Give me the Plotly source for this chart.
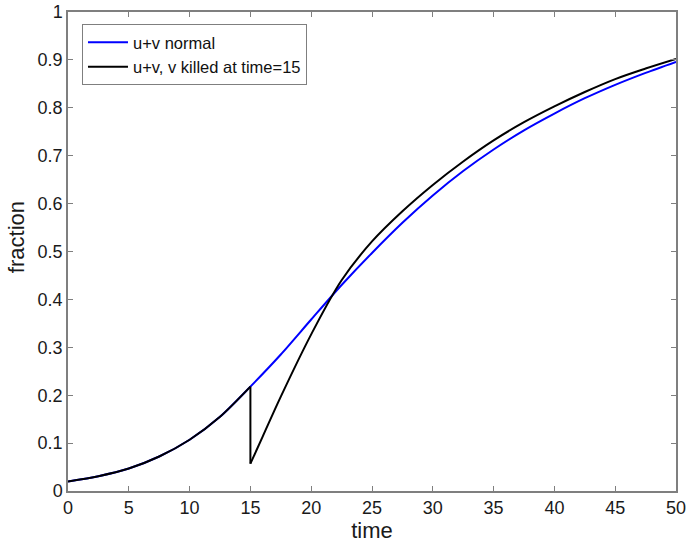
import plotly.graph_objects as go

# Data
t_normal = [0, 2.5, 5, 7.5, 10, 12.5, 15, 17.5, 20, 22.5, 25, 27.5, 30, 32.5,
            35, 37.5, 40, 42.5, 45, 47.5, 50]
f_normal = [0.020, 0.031, 0.047, 0.072, 0.107, 0.155, 0.218, 0.285, 0.358, 0.430,
            0.497, 0.560, 0.617, 0.668, 0.713, 0.753, 0.788, 0.820, 0.848, 0.873, 0.896]

# killed curve: before the kill (identical to normal), the drop, and after
t_before = [0, 2.5, 5, 7.5, 10, 12.5, 15]
f_before = [0.020, 0.031, 0.047, 0.072, 0.107, 0.155, 0.218]
t_drop = [15, 15]
f_drop = [0.218, 0.057]
t_after = [15, 16, 17.5, 20, 22.5, 25, 27.5, 30, 32.5, 35, 37.5, 40, 42.5, 45, 47.5, 50]
f_after = [0.057, 0.113, 0.197, 0.327, 0.440, 0.521, 0.584, 0.639, 0.688, 0.732,
           0.770, 0.803, 0.833, 0.860, 0.882, 0.902]

x_ticks = [0, 5, 10, 15, 20, 25, 30, 35, 40, 45, 50]
y_ticks = [0, 0.1, 0.2, 0.3, 0.4, 0.5, 0.6, 0.7, 0.8, 0.9, 1]
y_labels = ["0", "0.1", "0.2", "0.3", "0.4", "0.5", "0.6", "0.7", "0.8", "0.9", "1"]

font_family = "Liberation Sans, Arial, sans-serif"
text_color = "#1a1a1a"

fig = go.Figure()
fig.add_trace(go.Scatter(x=t_normal, y=f_normal, mode="lines", name="u+v normal",
                         line=dict(color="#0000ff", width=2, shape="spline", smoothing=0.8)))
fig.add_trace(go.Scatter(x=t_before, y=f_before, mode="lines",
                         name="u+v, v killed at time=15", legendgroup="killed",
                         line=dict(color="#000000", width=2, shape="spline", smoothing=0.8)))
fig.add_trace(go.Scatter(x=t_drop, y=f_drop, mode="lines", showlegend=False,
                         legendgroup="killed", line=dict(color="#000000", width=2)))
fig.add_trace(go.Scatter(x=t_after, y=f_after, mode="lines", showlegend=False,
                         legendgroup="killed",
                         line=dict(color="#000000", width=2, shape="spline", smoothing=1.0)))

axis_common = dict(
    showline=True, linecolor="#7f7f7f", linewidth=1.5, mirror="ticks",
    ticks="inside", ticklen=5, tickcolor="#7f7f7f", tickwidth=1.2,
    showgrid=False, zeroline=False, automargin=False, ticklabeloverflow="allow",
    tickfont=dict(family=font_family, size=18, color=text_color),
)

fig.update_xaxes(range=[0, 50], tickvals=x_ticks, ticktext=[str(v) for v in x_ticks],
                 title=dict(text="time", font=dict(family=font_family, size=22, color=text_color),
                            standoff=2),
                 **axis_common)
fig.update_yaxes(range=[0, 1], tickvals=y_ticks, ticktext=y_labels, **axis_common)

fig.add_annotation(text="fraction", textangle=-90, xref="paper", yref="paper",
                   x=-0.0855, y=0.530, xanchor="center", yanchor="middle", showarrow=False,
                   font=dict(family=font_family, size=22, color=text_color))

fig.update_layout(
    width=686, height=549,
    margin=dict(l=68, r=10, t=12, b=58),
    paper_bgcolor="white", plot_bgcolor="white",
    showlegend=True,
    legend=dict(x=0.023, y=0.975, xanchor="left", yanchor="top",
                bordercolor="#7f7f7f", borderwidth=1, bgcolor="white",
                font=dict(family=font_family, size=16.5, color="#111111"),
                tracegroupgap=0, itemwidth=40),
)

fig.write_html("out.html", config={"displayModeBar": False},
               post_script="document.body.style.margin='0';document.body.style.overflow='hidden';")
